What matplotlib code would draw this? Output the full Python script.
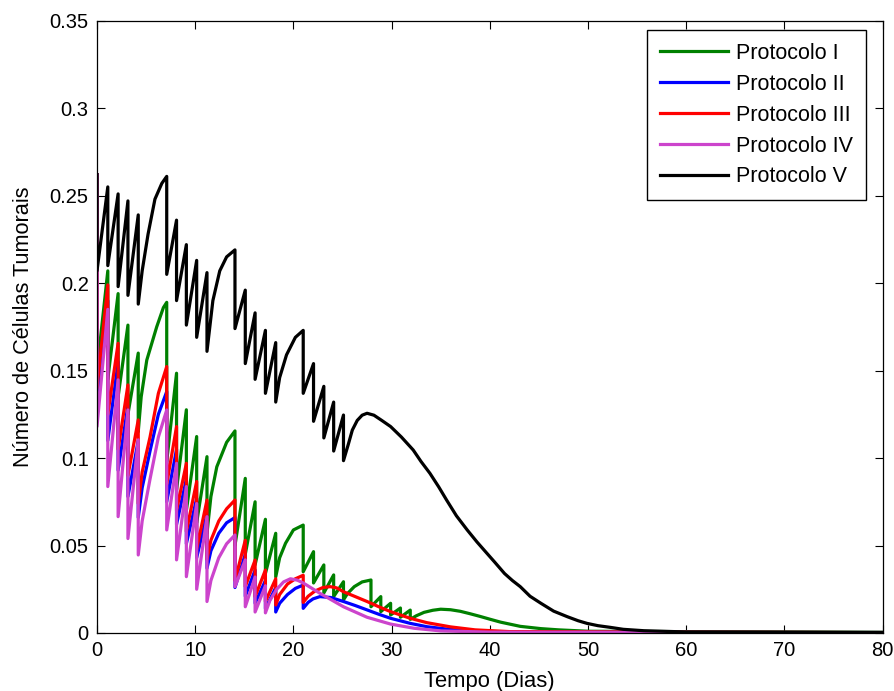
import matplotlib
matplotlib.use('Agg')
import matplotlib.pyplot as plt
from matplotlib.ticker import FuncFormatter

plt.rcParams['font.family'] = ['Liberation Sans', 'DejaVu Sans']

# Protocolo I (verde)
t_p1 = [0, 0, 1.1, 1.1, 2.15, 2.15, 3.15, 3.15, 4.2, 4.2, 4.5, 5.07, 6.08, 6.76, 7.1, 7.1,
        8.1, 8.1, 9.1, 9.1, 10.15, 10.15, 11.2, 11.2, 11.6, 12.2, 13.2, 14.05, 14.05,
        15.1, 15.1, 16.1, 16.1, 17.15, 17.15, 18.2, 18.2, 18.6, 19.2, 20.0, 21.0, 21.0,
        22.05, 22.05, 23.1, 23.1, 24.1, 24.1, 25.1, 25.1, 25.5, 26.2, 27.0, 27.9, 27.9,
        28.9, 28.9, 29.9, 29.9, 30.9, 30.9, 31.9, 31.9, 32.5, 33.3, 34.2, 35.0, 36.0,
        37.0, 38.0, 39.0, 40.0, 41.1, 43.1, 45.2, 47.0, 50.0, 80.0]
y_p1 = [0.262, 0.15, 0.207, 0.145, 0.194, 0.135, 0.176, 0.125, 0.16, 0.115, 0.135, 0.156, 0.175, 0.186, 0.189, 0.098,
        0.1485, 0.082, 0.1276, 0.07, 0.1123, 0.063, 0.1008, 0.057, 0.078, 0.095, 0.109, 0.1155, 0.05,
        0.0884, 0.045, 0.075, 0.039, 0.065, 0.034, 0.057, 0.032, 0.043, 0.0513, 0.0589, 0.0617, 0.035,
        0.0465, 0.0286, 0.0389, 0.0229, 0.0332, 0.0208, 0.0293, 0.0189, 0.0225, 0.0265, 0.0292, 0.0303, 0.015,
        0.0208, 0.0122, 0.017, 0.0103, 0.0143, 0.009, 0.0131, 0.0078, 0.0098, 0.0118, 0.013, 0.0136, 0.0133,
        0.0124, 0.011, 0.0095, 0.0079, 0.0062, 0.0038, 0.0025, 0.0018, 0.001, 0.0003]

# Protocolo II (azul)
t_p2 = [0, 0, 1.1, 1.1, 2.15, 2.15, 3.15, 3.15, 4.2, 4.2, 4.6, 5.4, 6.25, 7.1, 7.1,
        8.1, 8.1, 9.1, 9.1, 10.15, 10.15, 11.2, 11.2, 11.6, 12.4, 13.2, 14.05, 14.05,
        15.1, 15.1, 16.1, 16.1, 17.15, 17.15, 18.2, 18.2, 18.6, 19.4, 20.2, 21.0, 21.0,
        21.5, 22.0, 22.7, 23.8, 25.1, 26.3, 27.5, 28.7, 29.9, 31.9, 33.6, 36.0, 40.0, 45.0, 80.0]
y_p2 = [0.262, 0.13, 0.19, 0.11, 0.155, 0.093, 0.13, 0.078, 0.11, 0.066, 0.083, 0.104, 0.125, 0.138, 0.075,
        0.105, 0.062, 0.088, 0.051, 0.077, 0.043, 0.068, 0.037, 0.047, 0.057, 0.063, 0.066, 0.026,
        0.045, 0.021, 0.036, 0.017, 0.03, 0.014, 0.026, 0.012, 0.017, 0.022, 0.0255, 0.0274, 0.0141,
        0.0175, 0.0195, 0.0208, 0.0203, 0.018, 0.0157, 0.0132, 0.0107, 0.0084, 0.0055, 0.0036, 0.002, 0.0008, 0.0004, 0.0002]

# Protocolo III (vermelho)
t_p3 = [0, 0, 1.1, 1.1, 2.15, 2.15, 3.15, 3.15, 4.2, 4.2, 4.6, 5.4, 6.25, 7.1, 7.1,
        8.1, 8.1, 9.1, 9.1, 10.15, 10.15, 11.2, 11.2, 11.6, 12.4, 13.2, 14.05, 14.05,
        15.1, 15.1, 16.1, 16.1, 17.15, 17.15, 18.2, 18.2, 18.6, 19.4, 20.2, 21.0, 21.0,
        21.5, 22.2, 23.0, 23.75, 24.4, 25.1, 26.3, 27.5, 28.7, 29.9, 31.9, 33.6, 36.0,
        38.5, 42.0, 80.0]
y_p3 = [0.262, 0.14, 0.199, 0.125, 0.1656, 0.105, 0.1418, 0.09, 0.1218, 0.074, 0.092, 0.112, 0.137, 0.1523, 0.085,
        0.118, 0.07, 0.097, 0.058, 0.0866, 0.048, 0.076, 0.042, 0.053, 0.064, 0.071, 0.076, 0.03,
        0.053, 0.0265, 0.0417, 0.0208, 0.036, 0.018, 0.031, 0.016, 0.022, 0.028, 0.031, 0.033, 0.0175,
        0.021, 0.024, 0.026, 0.0265, 0.0258, 0.0236, 0.0208, 0.018, 0.015, 0.0122, 0.0084, 0.0059, 0.0035,
        0.0018, 0.0008, 0.0002]

# Protocolo IV (magenta)
t_p4 = [0, 0, 1.1, 1.1, 2.15, 2.15, 3.15, 3.15, 4.2, 4.2, 4.6, 5.4, 6.25, 7.1, 7.1,
        8.1, 8.1, 9.1, 9.1, 10.15, 10.15, 11.2, 11.2, 11.6, 12.4, 13.2, 14.05, 14.05,
        15.1, 15.1, 16.1, 16.1, 17.15, 17.15, 17.6, 18.3, 19.0, 19.7, 20.4, 21.0,
        22.7, 25.1, 27.5, 29.9, 32.3, 35.0, 40.0, 80.0]
y_p4 = [0.262, 0.118, 0.185, 0.0837, 0.1447, 0.0665, 0.1275, 0.054, 0.1104, 0.0446, 0.064, 0.088, 0.112, 0.1275, 0.0589,
        0.097, 0.0418, 0.0837, 0.0322, 0.074, 0.025, 0.0665, 0.018, 0.03, 0.043, 0.051, 0.056, 0.0265,
        0.0418, 0.015, 0.032, 0.012, 0.027, 0.0115, 0.0185, 0.025, 0.0292, 0.031, 0.0302, 0.0286,
        0.0227, 0.015, 0.009, 0.0051, 0.0027, 0.0012, 0.0005, 0.0002]

# Protocolo V (preto)
t_p5 = [0, 0, 1.1, 1.1, 2.15, 2.15, 3.15, 3.15, 4.2, 4.2, 4.6, 5.2, 5.9, 6.6, 7.1, 7.1,
        8.1, 8.1, 9.1, 9.1, 10.15, 10.15, 11.2, 11.2, 11.8, 12.5, 13.2, 14.05, 14.05,
        15.1, 15.1, 16.1, 16.1, 17.15, 17.15, 18.2, 18.2, 18.6, 19.3, 20.2, 21.0, 21.0,
        22.05, 22.05, 23.1, 23.1, 24.1, 24.1, 25.1, 25.1, 25.6, 26.0, 26.5, 27.0, 27.5,
        28.2, 29.0, 29.9, 31.0, 32.2, 33.0, 33.9, 34.8, 35.6, 36.6, 37.7, 38.7, 39.7,
        40.5, 41.5, 42.3, 43.1, 44.1, 45.2, 46.5, 47.9, 49.0, 49.9, 51.0, 52.3, 53.6,
        55.7, 60.0, 80.0]
y_p5 = [0.262, 0.207, 0.255, 0.21, 0.251, 0.198, 0.247, 0.193, 0.239, 0.188, 0.207, 0.228, 0.248, 0.257, 0.261, 0.205,
        0.236, 0.19, 0.222, 0.176, 0.213, 0.169, 0.206, 0.161, 0.19, 0.207, 0.215, 0.219, 0.174,
        0.196, 0.154, 0.183, 0.145, 0.173, 0.137, 0.166, 0.132, 0.146, 0.159, 0.169, 0.173, 0.137,
        0.154, 0.121, 0.141, 0.1115, 0.132, 0.104, 0.1246, 0.0985, 0.108, 0.116, 0.1215, 0.1245, 0.1256,
        0.1245, 0.1215, 0.118, 0.112, 0.1046, 0.098, 0.0913, 0.0835, 0.076, 0.067, 0.0589, 0.052, 0.0456,
        0.0405, 0.034, 0.030, 0.0265, 0.021, 0.017, 0.0125, 0.0093, 0.007, 0.0055, 0.0042, 0.0032, 0.0021,
        0.0013, 0.0006, 0.0004]

labels = ['Protocolo I', 'Protocolo II', 'Protocolo III', 'Protocolo IV', 'Protocolo V']
cores = ['#008000', '#0000ff', '#ff0000', '#cc44cc', '#000000']

fig = plt.figure(figsize=(8.94, 6.91), dpi=100)
ax = fig.add_axes([97 / 894, 58 / 691, 785.6 / 894, 612.3 / 691])

series = [(t_p1, y_p1), (t_p2, y_p2), (t_p3, y_p3), (t_p4, y_p4), (t_p5, y_p5)]
for (t, y), lab, c in zip(series, labels, cores):
    ax.plot(t, y, color=c, lw=2.3, label=lab)

ax.set_xlim(0, 80)
ax.set_ylim(0, 0.35)
ax.set_xticks(range(0, 81, 10))
ax.set_yticks([0, 0.05, 0.1, 0.15, 0.2, 0.25, 0.3, 0.35])
ax.yaxis.set_major_formatter(FuncFormatter(lambda v, p: '%g' % round(v, 2)))
ax.tick_params(direction='in', length=6, width=0.8, top=True, right=True, labelsize=14.5, pad=6)
for s in ax.spines.values():
    s.set_linewidth(0.9)

ax.set_xlabel('Tempo (Dias)', fontsize=15.8, labelpad=8)
ax.set_ylabel('Número de Células Tumorais', fontsize=15.7, labelpad=11)

leg = ax.legend(loc='upper right', bbox_to_anchor=(0.979, 0.985), borderaxespad=0,
                fontsize=15.5, handlelength=3.15, handletextpad=0.4, labelspacing=0.46,
                borderpad=0.6, fancybox=False, framealpha=1, edgecolor='black')
leg.get_frame().set_linewidth(1.0)

fig.savefig('out.png', dpi=100)
